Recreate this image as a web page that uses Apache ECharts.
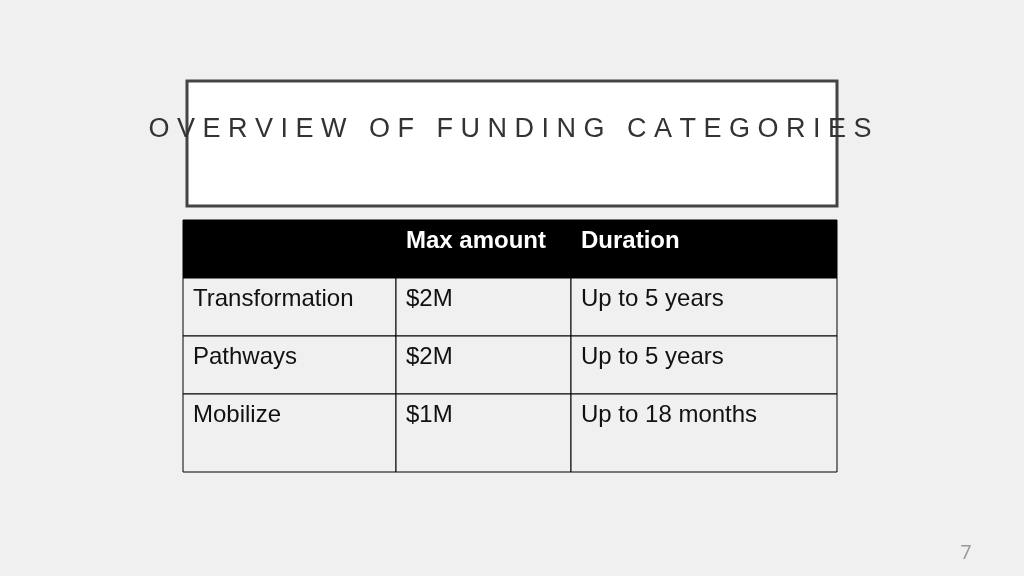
<!DOCTYPE html>
<html><head><meta charset="utf-8">
<script src="https://cdn.jsdelivr.net/npm/echarts@6/dist/echarts.min.js"></script>
<style>html,body{margin:0;background:#f0f0f0}#c{width:1024px;height:576px}</style>
</head><body><div id="c"></div>
<script>
const title = 'O V E R V I E W   O F   F U N D I N G   C A T E G O R I E S';
const headers = ['', 'Max amount', 'Duration'];
const categories = ['Transformation', 'Pathways', 'Mobilize'];
const maxAmounts = ['$2M', '$2M', '$1M'];
const durations = ['Up to 5 years', 'Up to 5 years', 'Up to 18 months'];
const colEdges = [0, 213, 388, 654];
const rowEdges = [0, 58, 116, 174, 252];
const pageNumber = '7';

const rows = [headers].concat(categories.map((c, i) => [c, maxAmounts[i], durations[i]]));
const cells = [];
rows.forEach((r, ri) => r.forEach((t, ci) => cells.push([ci, ri, t])));

const chart = echarts.init(document.getElementById('c'));
chart.setOption({
  backgroundColor: '#f0f0f0',
  animation: false,
  grid: {left: 183, top: 220, width: 654, height: 252},
  xAxis: {type: 'value', min: 0, max: 654, show: false},
  yAxis: {type: 'value', min: 0, max: 252, inverse: true, show: false},
  graphic: [
    {type: 'rect', shape: {x: 187, y: 81, width: 650, height: 125},
     style: {fill: '#ffffff', stroke: '#444', lineWidth: 3}},
    {type: 'text', x: 510, y: 130, style: {text: title, fill: '#333', font: '27px "Liberation Sans", Arial',
      align: 'center', verticalAlign: 'middle'}},
    {type: 'text', x: 966, y: 553, style: {text: pageNumber, fill: '#999', font: '20px "Open Sans"',
      align: 'center', verticalAlign: 'middle'}}
  ],
  series: [{
    type: 'custom',
    data: cells,
    renderItem: (params, api) => {
      const ci = api.value(0), ri = api.value(1);
      const t = cells[params.dataIndex][2];
      const p0 = api.coord([colEdges[ci], rowEdges[ri]]);
      const p1 = api.coord([colEdges[ci + 1], rowEdges[ri + 1]]);
      const header = ri === 0;
      return {type: 'group', children: [
        {type: 'rect', shape: {x: p0[0], y: p0[1], width: p1[0] - p0[0], height: p1[1] - p0[1]},
         style: {fill: header ? '#000' : '#f0f0f0', stroke: '#000', lineWidth: 1}},
        {type: 'text', x: p0[0] + 10, y: p0[1] + 21,
         style: {text: t, fill: header ? '#fff' : '#111', align: 'left', verticalAlign: 'middle',
           font: (header ? 'bold ' : '') + '24px "Liberation Sans", Arial'}}
      ]};
    }
  }]
});
</script></body></html>
